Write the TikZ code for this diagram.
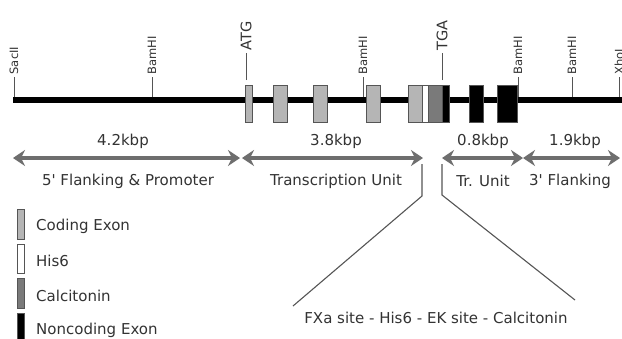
\documentclass[tikz,border=0pt]{standalone}
\usepackage{fontspec}
\setmainfont{DejaVu Sans}[Ligatures=TeXOff]
\usetikzlibrary{arrows.meta}

\definecolor{txt}{HTML}{333333}
\definecolor{spangray}{HTML}{6E6E6E}
\definecolor{boxline}{HTML}{555555}
\definecolor{coding}{HTML}{B5B5B5}
\definecolor{calc}{HTML}{7A7A7A}

\begin{document}
\begin{tikzpicture}[x=1pt, y=-1pt,
  lbl/.style={text=txt, font=\fontsize{15}{18}\selectfont, inner sep=0pt},
  site/.style={rotate=90, anchor=west, text=txt, font=\fontsize{11.5}{13}\selectfont, inner sep=0pt},
  codon/.style={rotate=90, anchor=west, text=txt, font=\fontsize{14.5}{16}\selectfont, inner sep=0pt},
  tick/.style={draw=boxline, line width=1pt},
  backbone/.style={draw=black, line width=5.5pt},
  exonbox/.style={draw=boxline, line width=0.9pt},
  span/.style={draw=spangray, line width=4.5pt,
    {Stealth[length=12pt,width=16pt,inset=4pt]}-{Stealth[length=12pt,width=16pt,inset=4pt]}},
  zoomline/.style={draw=boxline, line width=1.1pt}]
\useasboundingbox (0,0) rectangle (622,338);
\fill[white] (0,0) rectangle (622,338);

% restriction sites and the backbone
\coordinate (left) at (13,100);
\coordinate (right) at (626,100);
\foreach \x/\n in {14/SacII, 152/BamHI, 363/BamHI, 518/BamHI, 572/BamHI, 619/XhoI} {
  \draw[tick] (\x,100) -- (\x,77);
  \node[site] at (\x,74.5) {\n};
}
\draw[backbone] (left) -- (right);

% start and stop codons
\draw[tick] (246,80) -- (246,53);
\node[codon] (atg) at (246,50.5) {ATG};
\draw[tick] (442,80) -- (442,53);
\node[codon] (tga) at (442,50.5) {TGA};

% exons
\foreach \a/\b in {245/252, 273/287, 313/327, 366/380, 408/422}
  \filldraw[exonbox, fill=coding] (\a,85) rectangle (\b,122);
\filldraw[exonbox, fill=white] (422,85) rectangle (428,122);
\filldraw[exonbox, fill=calc] (428,85) rectangle (442,122);
\foreach \a/\b in {442/449, 469/483, 497/517}
  \filldraw[exonbox, fill=black] (\a,85) rectangle (\b,122);

% region spans
\coordinate (s0) at (13,158);
\coordinate (s1) at (240,158);
\coordinate (s2) at (242,158);
\coordinate (s3) at (423,158);
\coordinate (s4) at (442,158);
\coordinate (s5) at (523,158);
\coordinate (s6) at (620,158);
\draw[span] (s0) -- (s1);
\draw[span] (s2) -- (s3);
\draw[span] (s4) -- (s5);
\draw[span] (s5) -- (s6);

\node[lbl] (k1) at (123,141) {4.2kbp};
\node[lbl] (k2) at (336,141) {3.8kbp};
\node[lbl] (k3) at (483,141) {0.8kbp};
\node[lbl] (k4) at (575,141) {1.9kbp};
\node[lbl] (r1) at (128,181) {5' Flanking \& Promoter};
\node[lbl] (r2) at (336,181) {Transcription Unit};
\node[lbl] (r3) at (483,181) {Tr. Unit};
\node[lbl] (r4) at (570,181) {3' Flanking};

% expansion of the fusion region
\node[lbl] (fusion) at (436,318) {FXa site - His6 - EK site - Calcitonin};
\coordinate (zl) at (422,164);
\coordinate (zr) at (442,164);
\draw[zoomline] (zl) -- (422,196) -- (293,306);
\draw[zoomline] (zr) -- (442,195) -- (575,300);

% legend
\filldraw[exonbox, fill=coding] (17,209) rectangle (24,239);
\filldraw[exonbox, fill=white] (17,244) rectangle (24,273);
\filldraw[exonbox, fill=calc] (17,278) rectangle (24,308);
\filldraw[exonbox, fill=black] (17,313) rectangle (24,345);
\node[lbl, anchor=west] (l1) at (36,226) {Coding Exon};
\node[lbl, anchor=west] (l2) at (36,261) {His6};
\node[lbl, anchor=west] (l3) at (36,296) {Calcitonin};
\node[lbl, anchor=west] (l4) at (36,330) {Noncoding Exon};
\end{tikzpicture}
\end{document}
